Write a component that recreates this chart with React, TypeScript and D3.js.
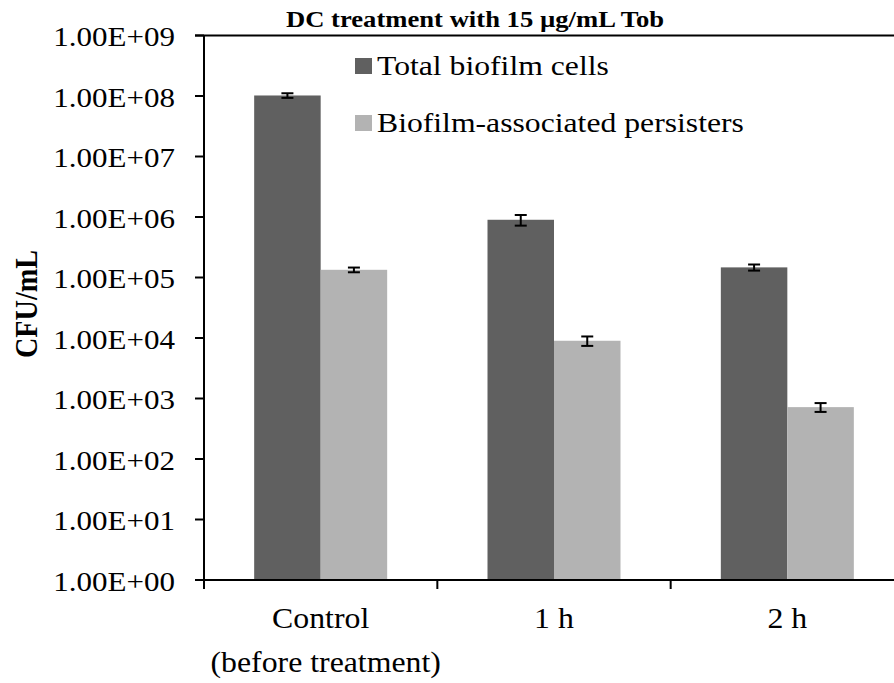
import React, { useEffect } from "react";
import * as d3 from "d3";

// CFU/mL counts per time point
const categories = ["Control|(before treatment)", "1 h", "2 h"];
const seriesNames = ["Total biofilm cells", "Biofilm-associated persisters"];
const totalCells = [1.02e8, 9.0e5, 1.47e5];
const totalCellsErr = [9e6, 1.8e5, 1.7e4];
const persisters = [1.34e5, 9.0e3, 7.2e2];
const persistersErr = [1.2e4, 1.6e3, 1.2e2];
const yTicks = [1e0, 1e1, 1e2, 1e3, 1e4, 1e5, 1e6, 1e7, 1e8, 1e9];
const colors = ["#606060", "#b3b3b3"];

const W = 894;
const H = 683;
const left = 204;
const right = 904;
const top = 35.5;
const bottom = 580;
// glyphs are drawn slightly wider than tall
const SX = 1.12;
const serif = { fontFamily: "'Liberation Serif', 'Times New Roman', Times, serif" };

const fmt = (v: number) => {
  const e = Math.round(Math.log10(v));
  return "1.00E+" + String(e).padStart(2, "0");
};

export default function App() {
  useEffect(() => {
    document.body.style.margin = "0";
  }, []);

  const y = d3.scaleLog().domain([1, 1e9]).range([bottom, top]);
  const x0 = d3
    .scaleBand<string>()
    .domain(categories)
    .range([left, right])
    .paddingInner(0.43)
    .paddingOuter(0.215);
  const x1 = d3
    .scaleBand<string>()
    .domain(seriesNames)
    .range([0, x0.bandwidth()]);

  const series = [
    { name: seriesNames[0], values: totalCells, errs: totalCellsErr, color: colors[0] },
    { name: seriesNames[1], values: persisters, errs: persistersErr, color: colors[1] },
  ];

  const step = x0.step();
  const boundaries = [0, 1, 2, 3].map((i) => left + i * step);

  return (
    <svg width={W} height={H} style={{ display: "block" }}>
      <rect width={W} height={H} fill="#fff" />

      {/* bars */}
      {series.map((s) =>
        categories.map((c, i) => {
          const bx = (x0(c) as number) + (x1(s.name) as number);
          const by = y(s.values[i]);
          return (
            <rect
              key={s.name + c}
              x={bx}
              y={by}
              width={x1.bandwidth()}
              height={bottom - by}
              fill={s.color}
            />
          );
        })
      )}

      {/* error bars */}
      {series.map((s) =>
        categories.map((c, i) => {
          const cx = (x0(c) as number) + (x1(s.name) as number) + x1.bandwidth() / 2;
          const yHi = y(s.values[i] + s.errs[i]);
          const yLo = y(s.values[i] - s.errs[i]);
          return (
            <g key={"e" + s.name + c} stroke="#000" strokeWidth={2}>
              <line x1={cx} x2={cx} y1={yHi} y2={yLo} />
              <line x1={cx - 6} x2={cx + 6} y1={yHi} y2={yHi} />
              <line x1={cx - 6} x2={cx + 6} y1={yLo} y2={yLo} />
            </g>
          );
        })
      )}

      {/* y axis */}
      <line x1={left} x2={left} y1={top} y2={bottom} stroke="#000" strokeWidth={2} />
      <line x1={left - 9} x2={right} y1={top} y2={top} stroke="#000" strokeWidth={2} />
      {yTicks.map((t) => (
        <g key={t}>
          <line x1={left - 9} x2={left} y1={y(t)} y2={y(t)} stroke="#000" strokeWidth={2} />
          <text
            transform={`translate(175, ${y(t) + 10.5}) scale(${SX}, 1)`}
            fontSize={27.7}
            textAnchor="end"
            fill="#000"
            style={serif}
          >
            {fmt(t)}
          </text>
        </g>
      ))}

      {/* x axis */}
      <line x1={left - 9} x2={right} y1={bottom} y2={bottom} stroke="#000" strokeWidth={2} />
      {boundaries.map((bx) => (
        <line key={bx} x1={bx} x2={bx} y1={bottom} y2={bottom + 9} stroke="#000" strokeWidth={2} />
      ))}
      {categories.map((c) => {
        const cx = (x0(c) as number) + x0.bandwidth() / 2;
        const lines = c.split("|");
        return lines.map((ln, k) => (
          <text
            key={c + k}
            transform={`translate(${cx + (k === 1 ? 5 : 0)}, ${628 + k * 44}) scale(${SX}, 1)`}
            fontSize={28.4}
            textAnchor="middle"
            fill="#000"
            style={serif}
          >
            {ln}
          </text>
        ));
      })}

      {/* y axis title */}
      <text
        transform={`translate(36.5, 304) scale(${SX}, 1) rotate(-90)`}
        fontSize={28.2}
        fontWeight="bold"
        textAnchor="middle"
        fill="#000"
        style={serif}
      >
        CFU/mL
      </text>

      {/* chart title */}
      <text
        transform={`translate(475, 26.5) scale(${SX}, 1)`}
        fontSize={23.8}
        fontWeight="bold"
        textAnchor="middle"
        fill="#000"
        style={serif}
      >
        DC treatment with 15 µg/mL Tob
      </text>

      {/* legend */}
      {series.map((s, i) => (
        <g key={"lg" + s.name}>
          <rect x={355} y={58 + i * 57} width={17} height={16} fill={s.color} />
          <text
            transform={`translate(377, ${75 + i * 56.5}) scale(${SX}, 1)`}
            fontSize={28.3}
            fill="#000"
            style={serif}
          >
            {s.name}
          </text>
        </g>
      ))}
    </svg>
  );
}
